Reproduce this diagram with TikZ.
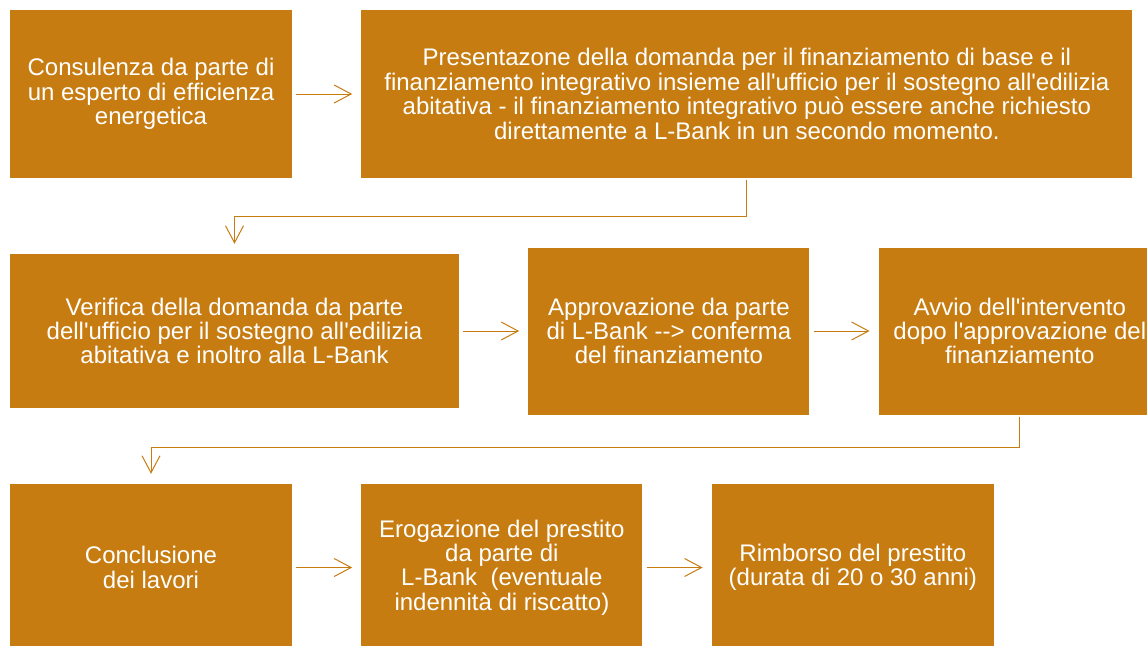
\documentclass[tikz,border=0pt]{standalone}
\usepackage{fontspec}
\newfontfamily\lbfont{Liberation Sans}
\usetikzlibrary{arrows.meta, positioning}
\definecolor{ochre}{HTML}{C77C11}

\begin{document}
\begin{tikzpicture}[
    font=\lbfont\fontsize{24}{24.4}\selectfont,
    node distance=69pt,
    box/.style={
      fill=ochre, text=white,
      minimum width=282pt, minimum height=167pt,
      align=center, inner sep=0pt
    },
    arr/.style={-{Straight Barb[length=17pt, width=18pt]}, draw=ochre, line width=1pt},
    link/.style={arr, shorten <=4pt, shorten >=9pt}
  ]
  \useasboundingbox (0,0) rectangle (1147pt,-645pt);
  \clip (0,0) rectangle (1147pt,-645pt);
  % first row
  \node[box, minimum height=168pt] (a) at (151pt,-94pt) {Consulenza da parte di\\un esperto di efficienza\\energetica};
  \node[box, minimum width=771pt, minimum height=168pt, right=of a] (b) {Presentazone della domanda per il finanziamento di base e il\\finanziamento integrativo insieme all'ufficio per il sostegno all'edilizia\\abitativa - il finanziamento integrativo può essere anche richiesto\\direttamente a L-Bank in un secondo momento.};
  % second row
  \node[box, minimum width=449pt, minimum height=154pt] (c) at (234.5pt,-331pt) {Verifica della domanda da parte\\dell'ufficio per il sostegno all'edilizia\\abitativa e inoltro alla L-Bank};
  \node[box, minimum width=281pt, right=of c] (d) {Approvazione da parte\\di L-Bank --> conferma\\del finanziamento};
  \node[box, right=of d] (e) {Avvio dell'intervento\\dopo l'approvazione del\\finanziamento};
  % third row
  \node[box] (f) at (151pt,-567.5pt) {Conclusione\\dei lavori};
  \node[box, minimum width=281pt, right=of f] (g) {Erogazione del prestito\\da parte di\\L-Bank\ \ (eventuale\\indennità di riscatto)};
  \node[box, right=of g] (h) {Rimborso del prestito\\(durata di 20 o 30 anni)};

  \draw[link] (a) -- (b);
  \draw[link] (c) -- (d);
  \draw[link] (d) -- (e);
  \draw[link] (f) -- (g);
  \draw[link] (g) -- (h);
  \draw[arr] ([yshift=-2pt]b.south) -- ([yshift=-38pt]b.south) -| ([yshift=10pt]c.north);
  \draw[arr] ([yshift=-2pt]e.south) -- ([yshift=-33pt]e.south) -| ([yshift=10pt]f.north);
\end{tikzpicture}
\end{document}
